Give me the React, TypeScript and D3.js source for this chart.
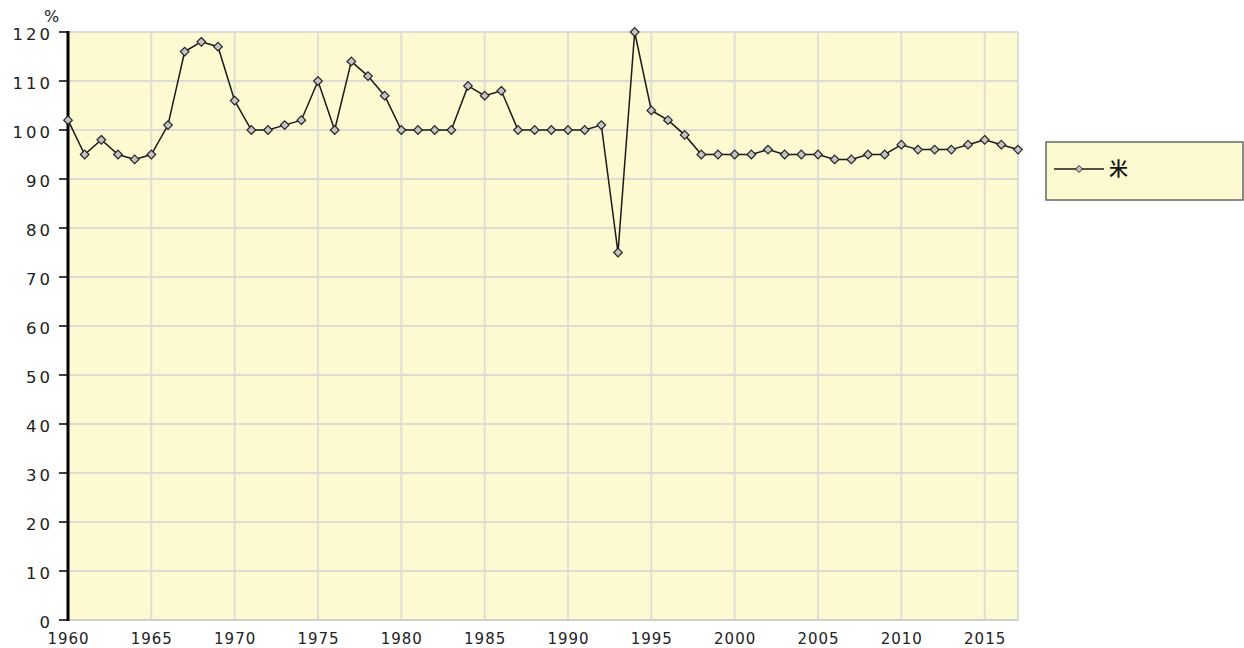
import React from "react";
import * as d3 from "d3";

const years: number[] = d3.range(1960, 2018);
const values: number[] = [
  102, 95, 98, 95, 94, 95, 101, 116, 118, 117,
  106, 100, 100, 101, 102, 110, 100, 114, 111, 107,
  100, 100, 100, 100, 109, 107, 108, 100, 100, 100,
  100, 100, 101, 75, 120, 104, 102, 99, 95, 95,
  95, 95, 96, 95, 95, 95, 94, 94, 95, 95,
  97, 96, 96, 96, 97, 98, 97, 96,
];
const yTicks: number[] = [0, 10, 20, 30, 40, 50, 60, 70, 80, 90, 100, 110, 120];
const xTicks: number[] = [1960, 1965, 1970, 1975, 1980, 1985, 1990, 1995, 2000, 2005, 2010, 2015];
const seriesName = "米";
const yUnit = "%";

const W = 1244;
const H = 648;
const left = 68;
const right = 1018;
const top = 32;
const bottom = 620;
const font = "'DejaVu Sans', 'Noto Sans CJK JP', sans-serif";
const cjk = "'Noto Sans CJK JP', sans-serif";

export default function App() {
  const x = d3.scaleLinear().domain([1960, 2017]).range([left, right]);
  const y = d3.scaleLinear().domain([0, 120]).range([bottom, top]);
  const line = d3
    .line<number>()
    .x((_, i) => x(years[i]))
    .y((d) => y(d));
  const diamond = (cx: number, cy: number, r: number) =>
    `M${cx},${cy - r}L${cx + r},${cy}L${cx},${cy + r}L${cx - r},${cy}Z`;

  return (
    <svg
      width={W}
      height={H}
      style={{ position: "absolute", left: 0, top: 0, background: "#fff" }}
    >
      <rect x={left} y={top} width={right - left} height={bottom - top} fill="#fdf9d0" />
      {yTicks.map((t) => (
        <line key={"gy" + t} x1={left} x2={right} y1={y(t)} y2={y(t)} stroke="#dcdcd4" strokeWidth={1.8} />
      ))}
      {xTicks.map((t) => (
        <line key={"gx" + t} x1={x(t)} x2={x(t)} y1={top} y2={bottom} stroke="#dcdcd4" strokeWidth={1.8} />
      ))}
      <line x1={right} x2={right} y1={top} y2={bottom} stroke="#dcdcd4" strokeWidth={1.8} />
      <line x1={left} x2={right} y1={bottom} y2={bottom} stroke="#cfcfcf" strokeWidth={2} />
      <line x1={left} x2={left} y1={top - 1} y2={bottom + 1} stroke="#000" strokeWidth={3} />
      {yTicks.map((t) => (
        <g key={"ty" + t}>
          <line x1={left - 9} x2={left} y1={y(t)} y2={y(t)} stroke="#000" strokeWidth={1.5} />
          <text
            x={left - 15}
            y={y(t) + 2}
            dy="0.35em"
            textAnchor="end"
            fontFamily={font}
            fontSize={16.5}
            letterSpacing={3}
            fill="#222"
          >
            {t}
          </text>
        </g>
      ))}
      <text x={44} y={22} fontFamily={font} fontSize={16} fill="#222">
        {yUnit}
      </text>
      {xTicks.map((t) => (
        <text
          key={"tx" + t}
          x={x(t) + 0.5}
          y={644}
          textAnchor="middle"
          fontFamily={font}
          fontSize={15}
          letterSpacing={1}
          fill="#222"
        >
          {t}
        </text>
      ))}
      <path d={line(values) || ""} fill="none" stroke="#1a1a1a" strokeWidth={1.5} />
      {values.map((v, i) => (
        <path
          key={"m" + i}
          d={diamond(x(years[i]), y(v), 4.3)}
          fill="#c4c4c8"
          stroke="#222"
          strokeWidth={1.2}
        />
      ))}
      <rect x={1046} y={142} width={197} height={58} fill="#fdf9d0" stroke="#666" strokeWidth={1.5} />
      <line x1={1054} x2={1104} y1={169} y2={169} stroke="#1a1a1a" strokeWidth={1.5} />
      <path d={diamond(1079, 169, 3.5)} fill="#c4c4c8" stroke="#222" strokeWidth={1} />
      <text x={1109} y={169} dy="0.35em" fontFamily={cjk} fontSize={19} fontWeight={500} fill="#111">
        {seriesName}
      </text>
    </svg>
  );
}
